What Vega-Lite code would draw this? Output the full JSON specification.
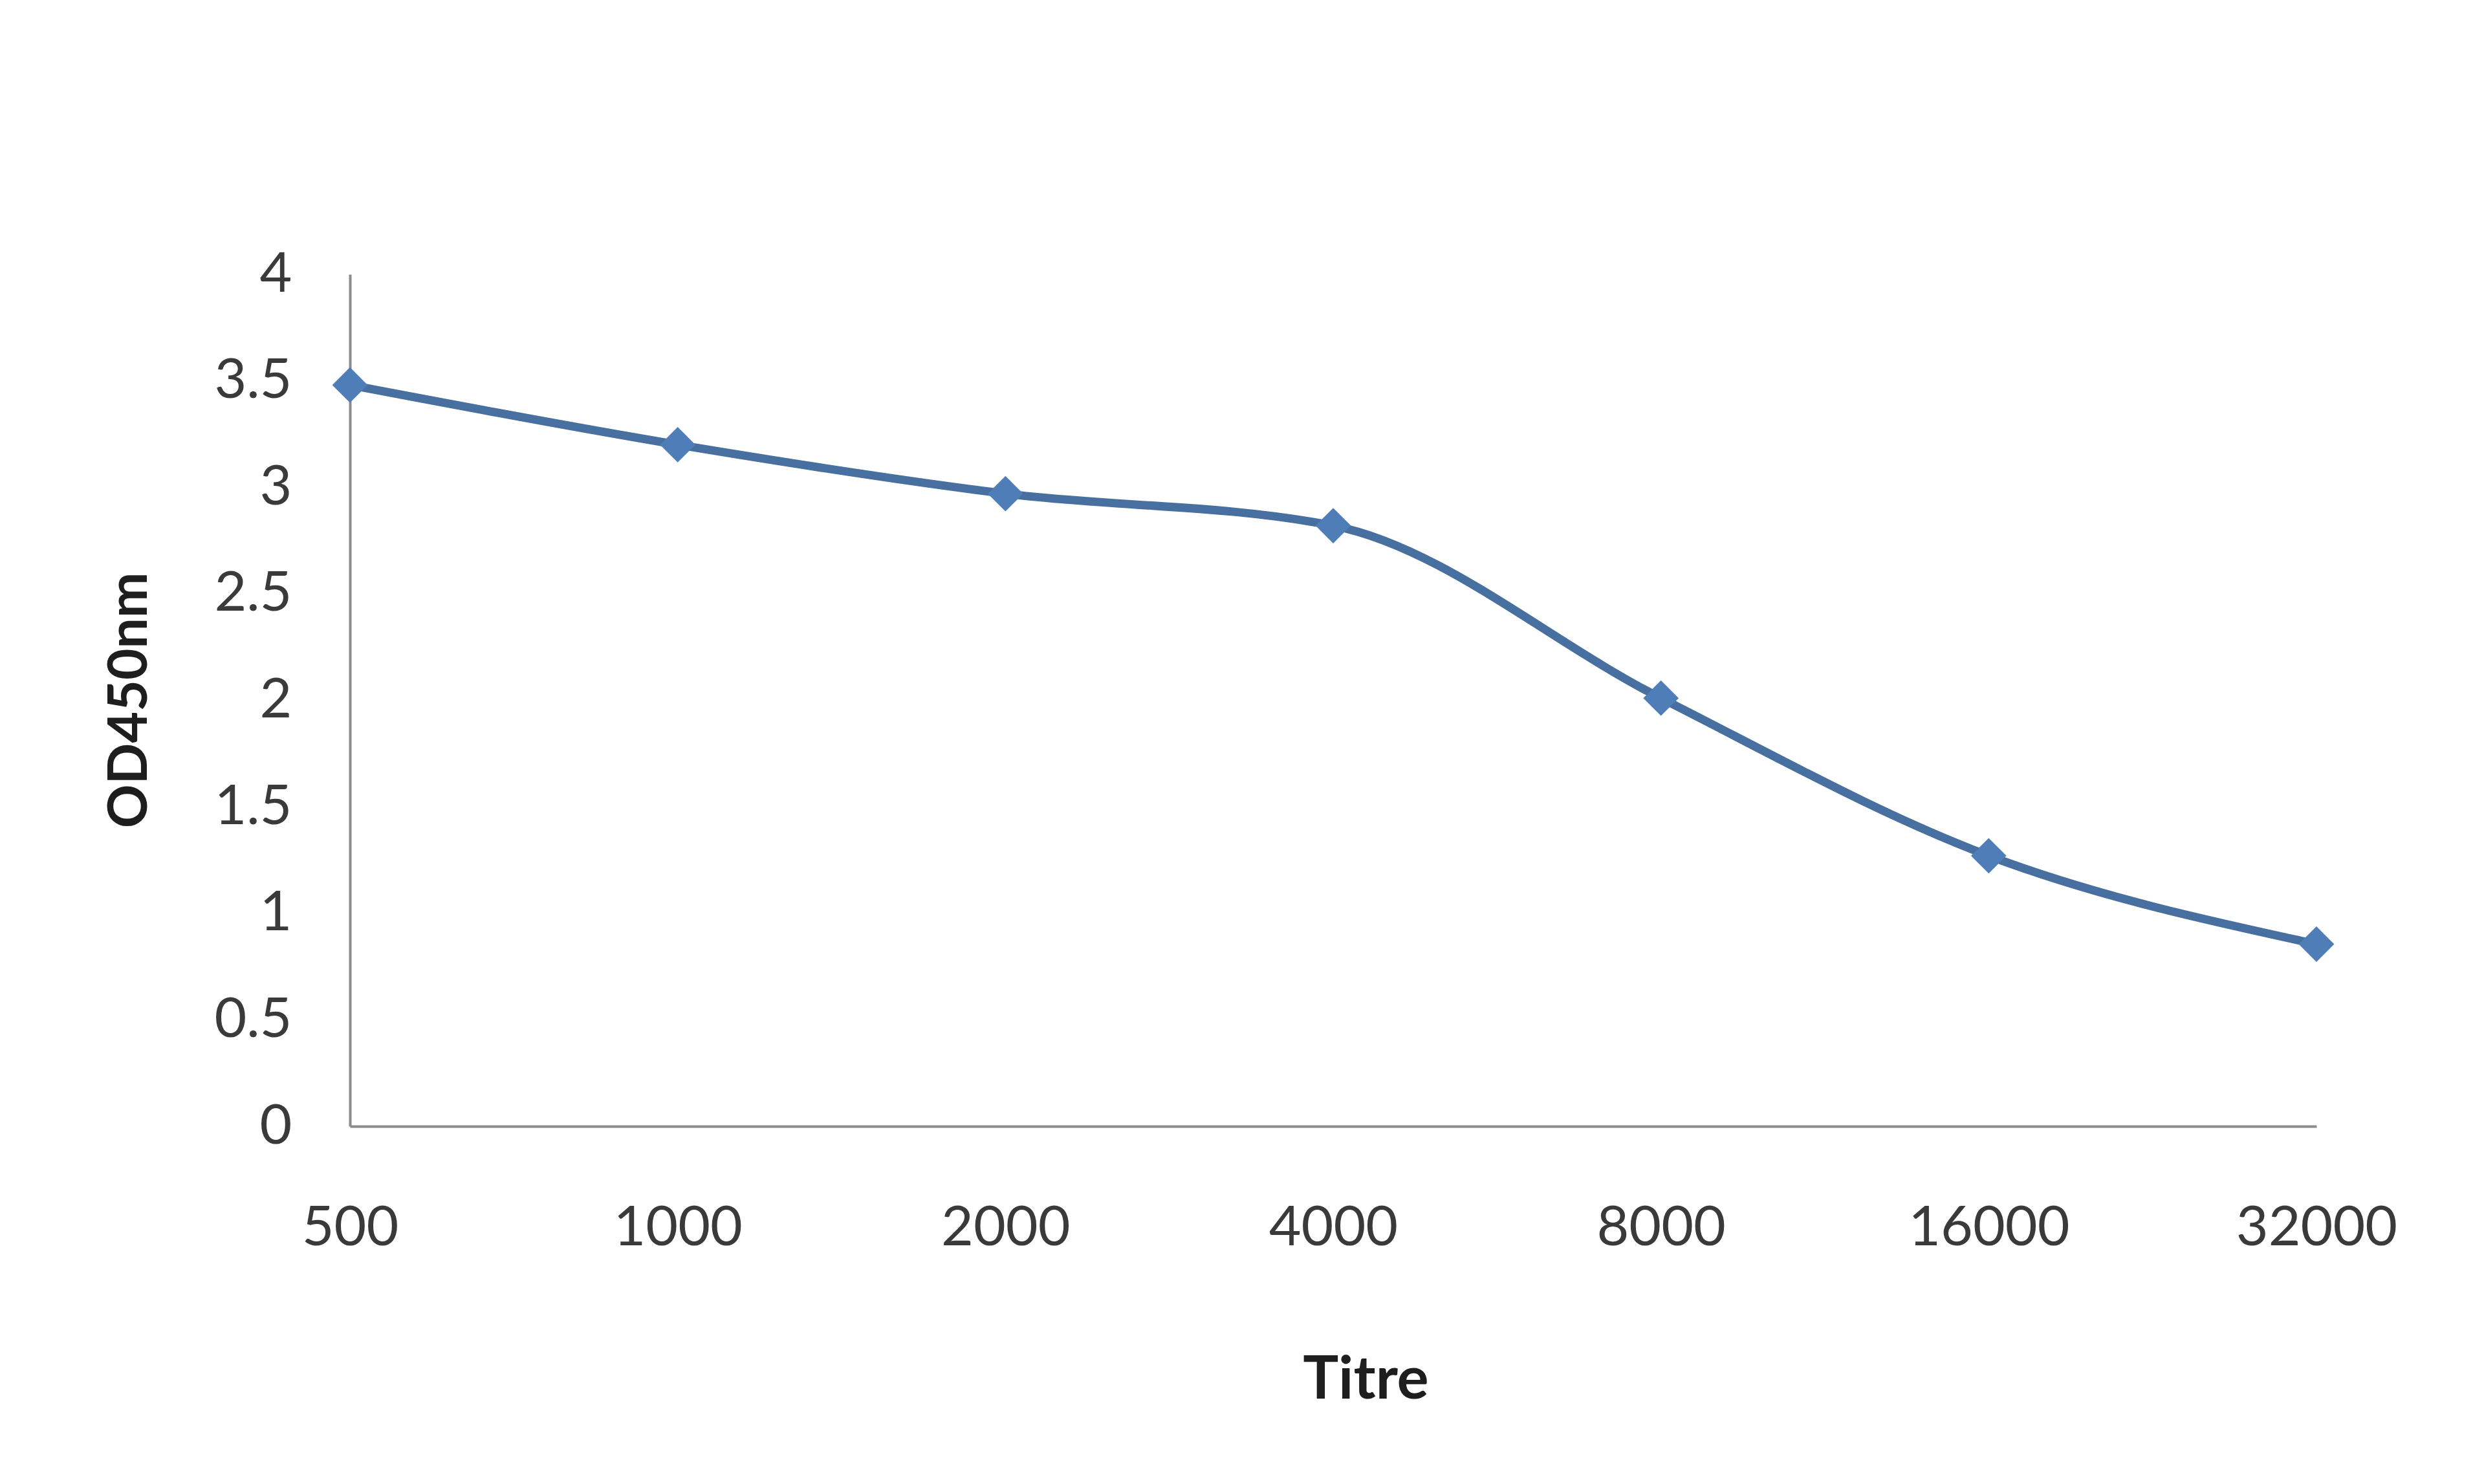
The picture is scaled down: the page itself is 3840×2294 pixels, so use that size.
{
  "$schema": "https://vega.github.io/schema/vega-lite/v6.json",
  "autosize": "none",
  "width": 3040,
  "height": 1317,
  "padding": {"left": 541, "top": 424, "right": 259, "bottom": 553},
  "background": "white",
  "data": {"values": [
    {"titre": "500", "od": 3.48},
    {"titre": "1000", "od": 3.2},
    {"titre": "2000", "od": 2.97},
    {"titre": "4000", "od": 2.82},
    {"titre": "8000", "od": 2.01},
    {"titre": "16000", "od": 1.27},
    {"titre": "32000", "od": 0.855}
  ]},
  "encoding": {
    "x": {
      "field": "titre", "type": "ordinal", "sort": null,
      "scale": {"type": "point", "padding": 0},
      "axis": {
        "title": "Titre", "labelAngle": 0, "ticks": false, "grid": false, "labelLimit": 0,
        "domainColor": "#8c8c8c", "domainWidth": 4,
        "labelFont": "Lato", "labelFontSize": 86, "labelColor": "#3a3a3a", "labelPadding": 115,
        "titleFont": "Lato", "titleFontSize": 92, "titleFontWeight": "bold", "titleColor": "#1e1e1e",
        "titleX": 1570, "titleY": 392, "titleBaseline": "middle", "titleAlign": "center"
      }
    },
    "y": {
      "field": "od", "type": "quantitative",
      "scale": {"domain": [0, 4], "nice": false, "zero": true},
      "axis": {
        "title": "OD450nm", "values": [0, 0.5, 1, 1.5, 2, 2.5, 3, 3.5, 4], "format": "~g",
        "ticks": false, "grid": false,
        "domainColor": "#8c8c8c", "domainWidth": 4,
        "labelFont": "Lato", "labelFontSize": 86, "labelColor": "#3a3a3a", "labelPadding": 90,
        "titleFont": "Lato", "titleFontSize": 84, "titleFontWeight": "bold", "titleColor": "#1e1e1e",
        "titleX": -340, "titleY": 658, "titleBaseline": "middle", "titleAlign": "center"
      }
    }
  },
  "layer": [
    {"mark": {"type": "line", "interpolate": "monotone", "color": "#476f9f", "strokeWidth": 13}},
    {"mark": {"type": "point", "shape": "diamond", "filled": true, "size": 3000, "color": "#4f7db8", "opacity": 1}}
  ],
  "config": {"view": {"stroke": null}}
}
